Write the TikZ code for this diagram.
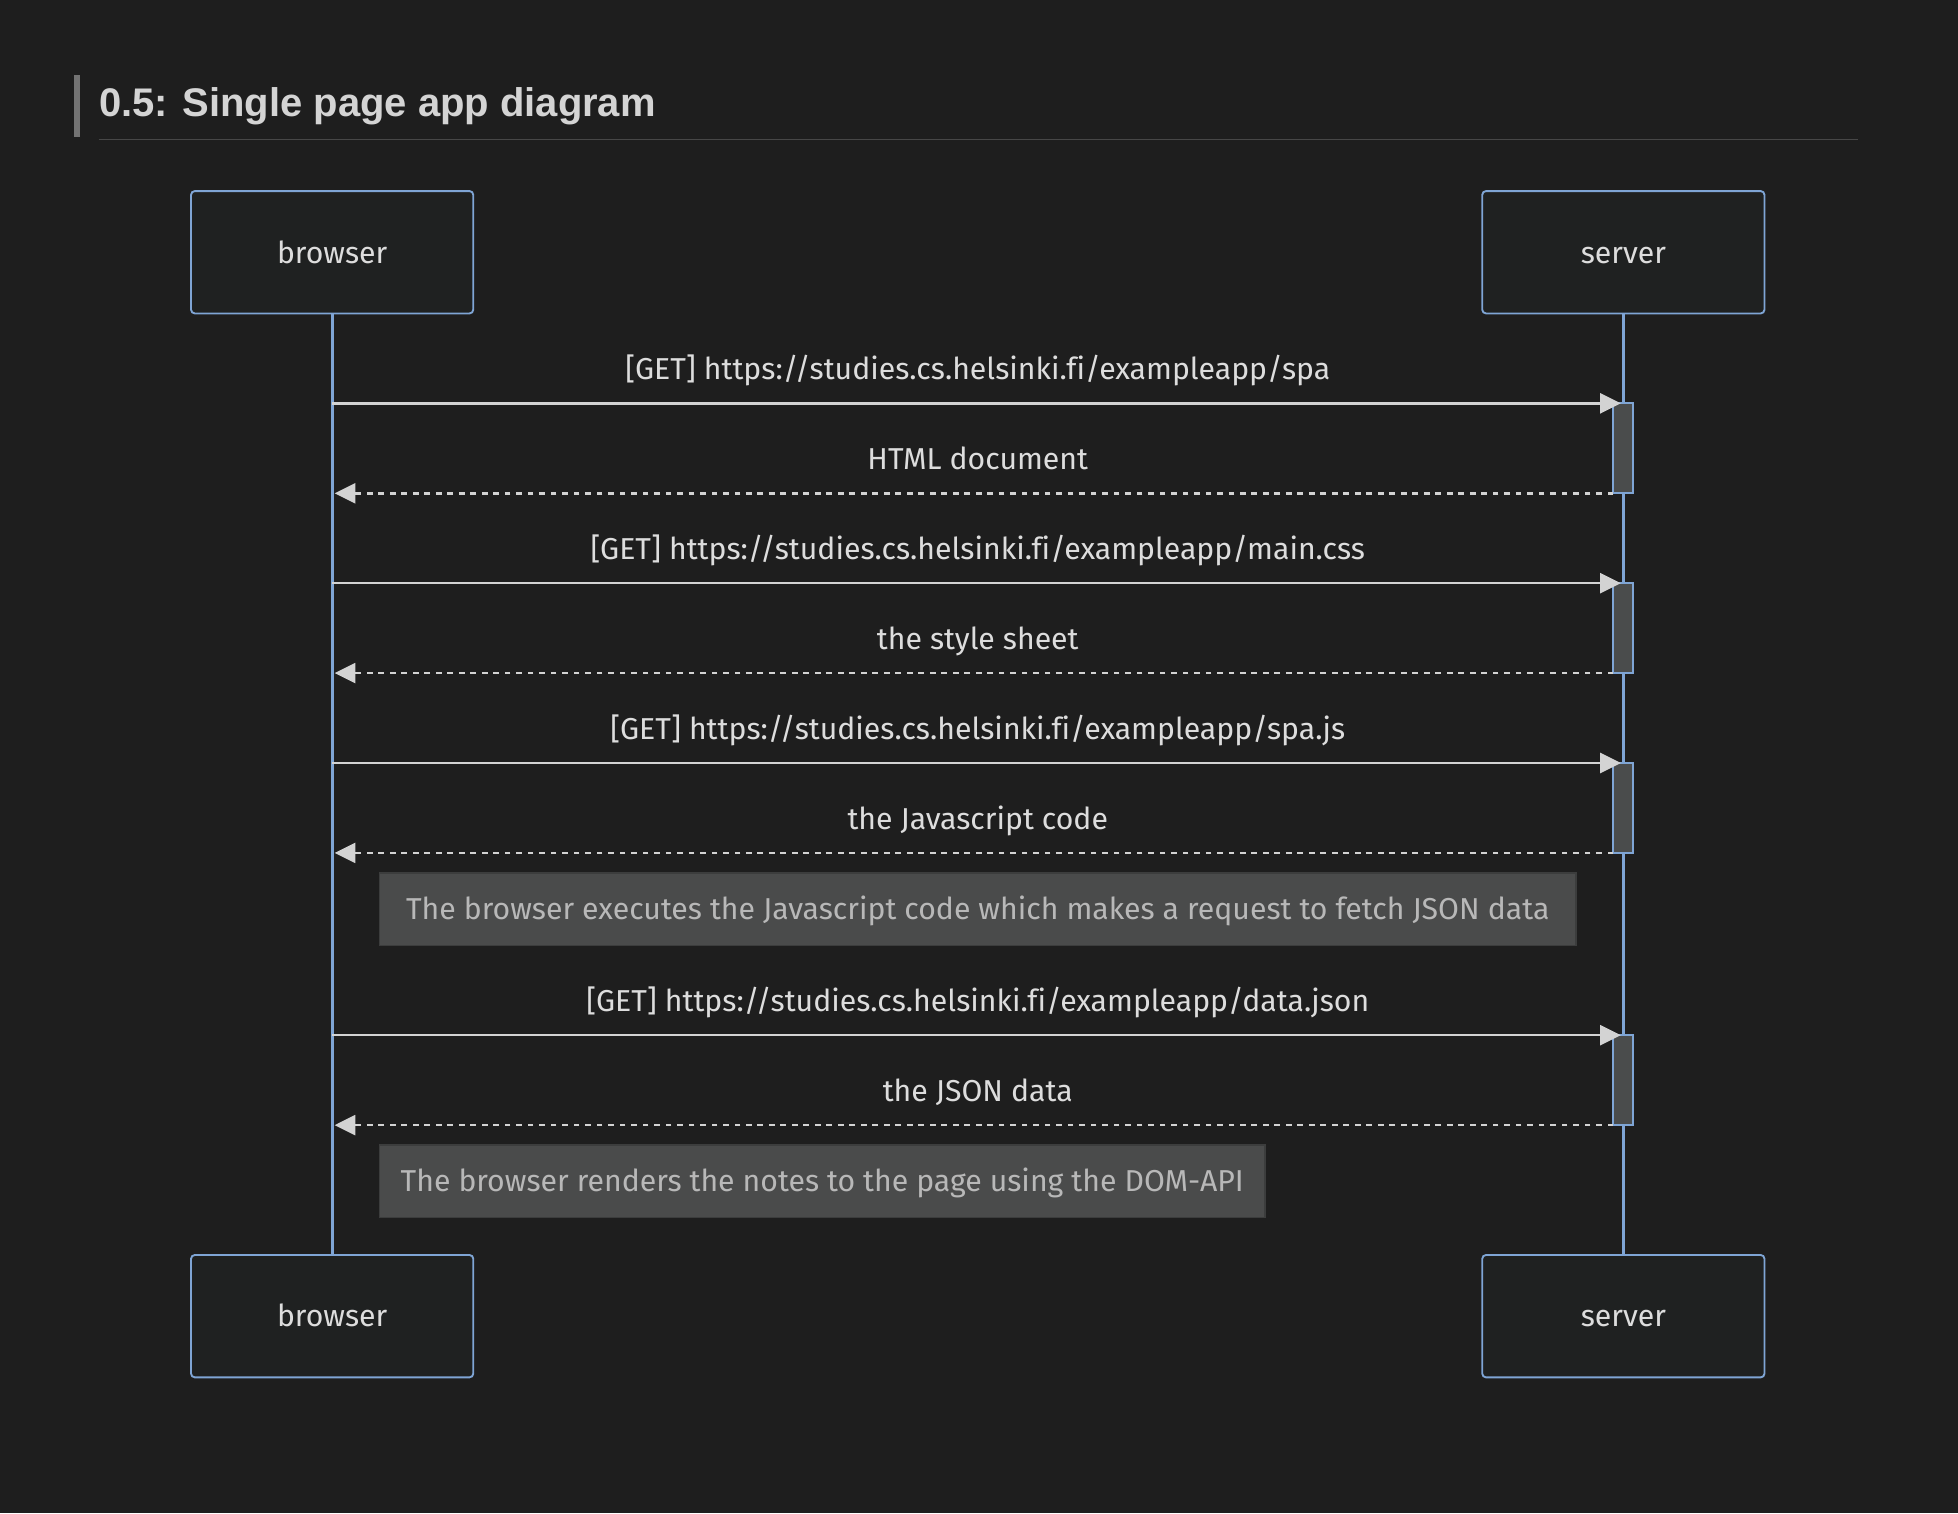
\documentclass[tikz,border=0pt]{standalone}
\usepackage{fontspec}
\setmainfont[Ligatures=NoCommon]{Fira Sans}
\newfontfamily\titlefont{Liberation Sans}
\usetikzlibrary{arrows.meta}
\definecolor{bg}{HTML}{1E1E1E}
\definecolor{titlecol}{HTML}{D4D4D4}
\definecolor{barcol}{HTML}{737373}
\definecolor{rulecol}{HTML}{474747}
\definecolor{actorline}{HTML}{7FA5D5}
\definecolor{actorfill}{HTML}{1F2121}
\definecolor{actortext}{HTML}{DDDDDD}
\definecolor{msgcol}{HTML}{D3D3D3}
\definecolor{actfill}{HTML}{4A4C4C}
\definecolor{notefill}{HTML}{4A4B4B}
\definecolor{noteline}{HTML}{3C3D3D}
\definecolor{notetext}{HTML}{B8B8B8}
\tikzset{
  txt/.style={font=\fontsize{12.1}{14}\selectfont},
  actor/.style={draw=actorline, fill=actorfill, rounded corners=1.5pt, line width=0.75pt,
    minimum width=113pt, minimum height=49pt, inner sep=0pt},
  actorlabel/.style={txt, anchor=base, text=actortext, inner sep=0pt},
  lifeline/.style={draw=actorline, line width=1.25pt},
  activation/.style={draw=actorline, fill=actfill, line width=0.75pt,
    minimum width=8pt, minimum height=36pt, inner sep=0pt},
  msglabel/.style={txt, anchor=base, text=actortext, inner sep=0pt},
  callmsg/.style={draw=msgcol, line width=1pt, -{Triangle[length=8.3pt,width=8pt]}},
  replymsg/.style={draw=msgcol, line width=1pt, dash pattern=on 2.3pt off 2.3pt,
    -{Triangle[length=8.3pt,width=8pt]}},
  notebox/.style={draw=noteline, fill=notefill, line width=0.6pt,
    minimum height=29pt, inner sep=0pt},
  notelabel/.style={txt, anchor=base, text=notetext, inner sep=0pt},
}
\begin{document}
\begin{tikzpicture}[x=0.5pt,y=-0.5pt]
\fill[bg] (0,0) rectangle (1568,1212);
\useasboundingbox (0,0) rectangle (1568,1212);
% title
\fill[barcol] (59,60) rectangle (64,110);
\node[anchor=base west, inner sep=0pt, text=titlecol,
  font=\titlefont\bfseries\fontsize{16}{19}\selectfont] (title) at (79,93) {0.5: Single page app diagram};
\draw[rulecol, line width=0.5pt] (79,111.5) -- (1488,111.5);
% actors
\node[actor] (bT) at (266,202) {};
\node[actor] (sT) at (1300,202) {};
\node[actor] (bB) at (266,1054) {};
\node[actor] (sB) at (1300,1054) {};
\node[actorlabel] (bTl) at (266,211) {browser};
\node[actorlabel] (sTl) at (1300,211) {server};
\node[actorlabel] (bBl) at (266,1062) {browser};
\node[actorlabel] (sBl) at (1300,1062) {server};
\draw[lifeline] (bT.south) -- (bB.north);
\draw[lifeline] (sT.south) -- (sB.north);
% activations
\node[activation] (a1) at (1300,359) {};
\node[activation] (a2) at (1300,503) {};
\node[activation] (a3) at (1300,647) {};
\node[activation] (a4) at (1300,865) {};
% message end points
\coordinate (b1) at (266,323);  \coordinate (s1) at (1298,323);
\coordinate (r1) at (1292,395); \coordinate (c1) at (268,395);
\coordinate (b2) at (266,467);  \coordinate (s2) at (1298,467);
\coordinate (r2) at (1292,539); \coordinate (c2) at (268,539);
\coordinate (b3) at (266,611);  \coordinate (s3) at (1298,611);
\coordinate (r3) at (1292,683); \coordinate (c3) at (268,683);
\coordinate (b4) at (266,829);  \coordinate (s4) at (1298,829);
\coordinate (r4) at (1292,901); \coordinate (c4) at (268,901);
% messages
\draw[callmsg] (b1) -- (s1);
\node[msglabel] (l1) at (783,304) {[GET] https://studies.cs.helsinki.fi/exampleapp/spa};
\draw[replymsg] (r1) -- (c1);
\node[msglabel] (l2) at (783,376) {HTML document};
\draw[callmsg] (b2) -- (s2);
\node[msglabel] (l3) at (783,448) {[GET] https://studies.cs.helsinki.fi/exampleapp/main.css};
\draw[replymsg] (r2) -- (c2);
\node[msglabel] (l4) at (783,520) {the style sheet};
\draw[callmsg] (b3) -- (s3);
\node[msglabel] (l5) at (783,592) {[GET] https://studies.cs.helsinki.fi/exampleapp/spa.js};
\draw[replymsg] (r3) -- (c3);
\node[msglabel] (l6) at (783,664) {the Javascript code};
\node[notebox, minimum width=479pt] (n1) at (783,728) {};
\node[notelabel] (n1l) at (783,736) {The browser executes the Javascript code which makes a request to fetch JSON data};
\draw[callmsg] (b4) -- (s4);
\node[msglabel] (l7) at (783,810) {[GET] https://studies.cs.helsinki.fi/exampleapp/data.json};
\draw[replymsg] (r4) -- (c4);
\node[msglabel] (l8) at (783,882) {the JSON data};
\node[notebox, minimum width=354.5pt] (n2) at (658.5,946) {};
\node[notelabel] (n2l) at (658.5,954) {The browser renders the notes to the page using the DOM-API};
\end{tikzpicture}
\end{document}
